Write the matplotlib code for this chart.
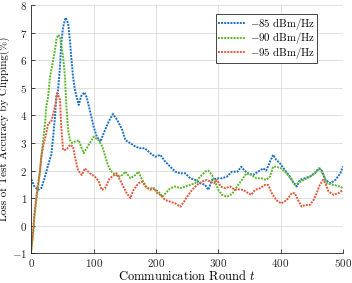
import matplotlib
matplotlib.use('Agg')
import matplotlib.pyplot as plt

# values
ROUND_85 = [0, 5, 11, 16, 22, 27, 32, 35, 38, 40, 43, 46, 48, 51, 55, 59, 62, 64, 67, 70,
            76, 80, 85, 89, 95, 100, 105, 111, 116, 124, 131, 138, 146, 151, 159, 167, 174,
            182, 191, 199, 207, 215, 223, 231, 239, 247, 255, 263, 271, 279, 284, 290, 298,
            306, 314, 322, 331, 337, 342, 348, 356, 364, 372, 377, 383, 388, 393, 399, 407,
            415, 420, 426, 431, 439, 447, 455, 461, 466, 472, 480, 488, 496, 500]
LOSS_85 = [1.68, 1.42, 1.3, 1.36, 1.78, 2.2, 2.57, 3.23, 3.95, 4.68, 4.92, 5.77, 6.61, 7.21,
           7.54, 7.34, 6.73, 6.13, 5.4, 4.92, 4.38, 4.7, 4.84, 4.65, 4.08, 3.59, 3.23, 3.05,
           3.35, 3.77, 4.05, 3.83, 3.47, 3.1, 2.99, 2.87, 2.81, 2.81, 2.63, 2.5, 2.57, 2.32,
           2.14, 1.96, 1.9, 1.9, 1.72, 1.66, 1.54, 1.48, 1.3, 1.66, 1.72, 1.72, 1.78, 1.96,
           1.96, 2.14, 2.0, 1.9, 1.84, 1.96, 2.08, 2.0, 2.32, 2.57, 2.39, 2.26, 2.02, 1.78,
           1.6, 1.42, 1.66, 1.72, 1.78, 1.9, 2.08, 2.0, 1.66, 1.54, 1.66, 1.9, 2.15]

ROUND_90 = [0, 3, 5, 8, 11, 14, 16, 19, 22, 24, 27, 30, 32, 35, 38, 40, 43, 46, 48, 51, 54,
            56, 59, 62, 65, 70, 76, 84, 92, 100, 108, 114, 122, 127, 135, 143, 151, 159, 167,
            172, 178, 186, 194, 199, 204, 210, 218, 223, 231, 239, 247, 255, 263, 271, 279,
            284, 290, 295, 300, 306, 314, 322, 332, 340, 345, 353, 361, 369, 377, 383, 388,
            393, 401, 410, 418, 423, 428, 437, 447, 458, 463, 469, 474, 485, 496, 500]
LOSS_90 = [-0.9, -0.3, 0.33, 0.93, 1.42, 2.0, 2.5, 3.1, 3.71, 4.32, 4.68, 5.4, 5.64, 6.0,
           6.37, 6.73, 6.92, 6.85, 6.6, 6.13, 5.4, 4.44, 3.47, 3.1, 3.0, 3.05, 3.1, 2.63,
           2.93, 3.23, 3.1, 2.87, 2.26, 2.0, 1.84, 1.78, 1.96, 1.72, 1.84, 1.96, 1.66, 1.36,
           1.36, 1.3, 1.24, 1.05, 1.24, 1.36, 1.42, 1.36, 1.42, 1.48, 1.54, 1.78, 1.96, 2.0,
           1.84, 1.6, 1.3, 1.12, 1.05, 1.15, 1.48, 1.72, 1.9, 1.84, 1.72, 1.72, 1.66, 1.78,
           2.14, 2.14, 2.08, 1.9, 1.66, 1.48, 1.54, 1.66, 1.78, 1.96, 2.08, 1.84, 1.54, 1.48,
           1.42, 1.36]

ROUND_95 = [0, 3, 5, 8, 11, 14, 16, 19, 24, 27, 32, 38, 42, 46, 48, 51, 56, 62, 67, 70, 75,
            81, 86, 94, 102, 108, 113, 118, 126, 137, 145, 153, 159, 164, 172, 178, 183, 191,
            197, 202, 207, 215, 223, 231, 239, 245, 250, 258, 266, 274, 282, 287, 293, 298,
            304, 311, 319, 327, 332, 340, 348, 353, 359, 367, 375, 380, 386, 393, 401, 410,
            418, 423, 428, 434, 439, 447, 453, 458, 463, 468, 472, 477, 485, 493, 500]
LOSS_95 = [-0.85, -0.15, 0.45, 1.05, 1.54, 2.0, 2.5, 2.87, 3.35, 3.71, 3.77, 4.32, 4.8, 4.56,
           3.59, 2.75, 2.75, 2.93, 2.87, 2.5, 2.0, 1.84, 2.08, 1.9, 1.78, 1.62, 1.3, 1.35,
           1.72, 1.9, 1.54, 1.18, 1.0, 1.3, 1.54, 1.6, 1.42, 1.3, 1.36, 1.18, 1.12, 0.93,
           0.87, 0.81, 0.69, 0.87, 1.05, 1.3, 1.48, 1.6, 1.66, 1.6, 1.54, 1.66, 1.42, 1.36,
           1.42, 1.3, 1.32, 1.3, 1.18, 1.12, 1.3, 1.36, 1.48, 1.48, 1.18, 0.93, 0.81, 0.93,
           1.18, 1.18, 0.93, 0.69, 0.75, 0.75, 0.93, 1.18, 1.48, 1.66, 1.54, 1.24, 1.12,
           1.18, 1.3]

LABELS = [r'$-85\ \mathrm{dBm/Hz}$', r'$-90\ \mathrm{dBm/Hz}$', r'$-95\ \mathrm{dBm/Hz}$']
COLORS = ['#1B6EC2', '#5BB62A', '#E2573A']

plt.rcParams['font.family'] = 'serif'
plt.rcParams['font.serif'] = ['cmr10']
plt.rcParams['mathtext.fontset'] = 'cm'
plt.rcParams['axes.formatter.use_mathtext'] = True
plt.rcParams['axes.unicode_minus'] = True


def visualize():
    fig = plt.figure(figsize=(3.52, 2.83), dpi=100)
    ax = fig.add_axes([0.089, 0.105, 0.885, 0.877])

    series = [(ROUND_85, LOSS_85), (ROUND_90, LOSS_90), (ROUND_95, LOSS_95)]
    for (xs, ys), lab, col in zip(series, LABELS, COLORS):
        ax.plot(xs, ys, color=col, linestyle=(0, (1, 0.6)), linewidth=1.4, label=lab)

    ax.set_xlim(0, 500)
    ax.set_ylim(-1, 8)
    ax.set_xticks([0, 100, 200, 300, 400, 500])
    ax.set_yticks(range(-1, 9))
    ax.grid(True, color='#dcdcdc', linewidth=0.6)
    ax.set_axisbelow(True)
    for side in ['top', 'right']:
        ax.spines[side].set_visible(False)
    for side in ['left', 'bottom']:
        ax.spines[side].set_color('#262626')
        ax.spines[side].set_linewidth(0.6)
    ax.tick_params(direction='in', length=3, width=0.6, labelsize=8, colors='#262626',
                   pad=3)

    ax.set_xlabel(r'Communication Round $t$', fontsize=9, labelpad=0)
    ax.set_ylabel('Loss of Test Accuracy by Clipping(%)', fontsize=7.9, labelpad=1)

    leg = ax.legend(loc='upper right', bbox_to_anchor=(0.917, 0.964), fontsize=7.8,
                    fancybox=False, framealpha=1, edgecolor='#262626',
                    handlelength=2.6, handletextpad=0.4, borderpad=0.15,
                    labelspacing=-0.12, borderaxespad=0)
    leg.get_frame().set_linewidth(0.6)

    fig.savefig('out.png', dpi=100)


if __name__ == '__main__':
    visualize()
